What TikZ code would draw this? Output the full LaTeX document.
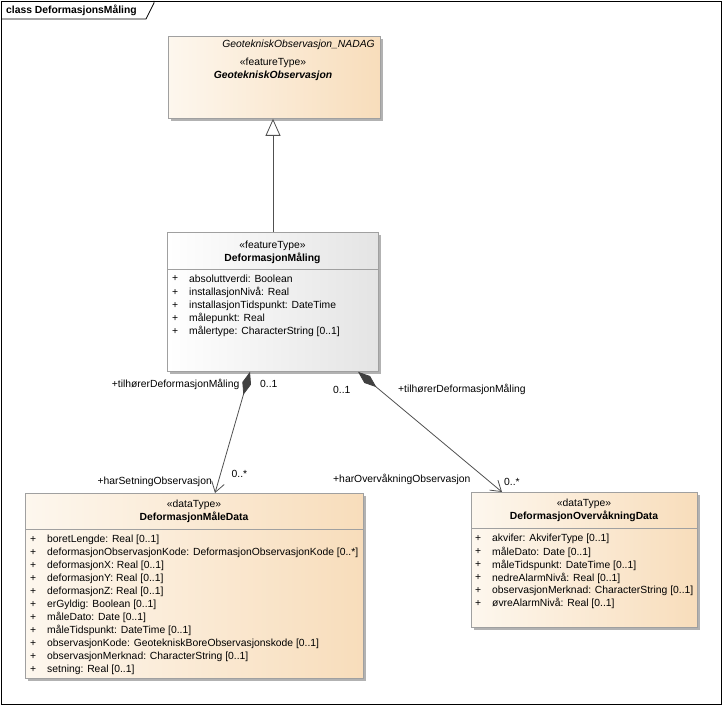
\documentclass[tikz,border=0pt]{standalone}
\usepackage{fontspec}
\setmainfont{Liberation Sans}
\usetikzlibrary{arrows.meta,shadows}
\definecolor{beigeL}{HTML}{FDF7EE}
\definecolor{beigeR}{HTML}{F8DDBB}
\definecolor{greyR}{HTML}{E4E4E4}
\definecolor{boxline}{HTML}{A0A0A0}
\definecolor{conline}{HTML}{505050}
\definecolor{diamondc}{HTML}{404040}
\tikzset{
  umlbox/.style={draw=boxline, line width=0.8pt, anchor=north west, inner sep=0pt,
    drop shadow={shadow xshift=3pt, shadow yshift=-3pt, fill=black!30, opacity=1}},
  beigebox/.style={umlbox, left color=beigeL, right color=beigeR},
  greybox/.style={umlbox, left color=white, right color=greyR},
  txt/.style={font=\fontsize{10.35}{12}\selectfont, inner sep=0pt, text=black},
  attr/.style={txt, anchor=west},
  bold/.style={txt, font=\fontsize{10.35}{12}\selectfont\bfseries},
  sep/.style={draw=boxline, line width=0.8pt},
  conn/.style={draw=conline, line width=0.8pt},
  comp/.style={conn, {Diamond[fill=diamondc, color=diamondc, length=24pt, width=9pt]}-{Straight Barb[length=10pt, width=13pt, line width=0.8pt]}},
}
\begin{document}
\begin{tikzpicture}[x=1pt,y=-1pt]
\useasboundingbox (0,0) rectangle (723,706);
% frame
\draw[line width=0.8pt] (1,1) rectangle (721.5,704.5);
\draw[line width=0.8pt] (1,19) -- (146,19) -- (154,3) -- (154,1);
\node[bold, anchor=west] (title) at (6,10) {class DeformasjonsMåling};

% GeotekniskObservasjon
\node[beigebox, minimum width=212, minimum height=82] (go) at (168,36) {};
\node[txt, anchor=east, font=\fontsize{10.35}{12}\selectfont\itshape] (gopkg) at (375,45) {GeotekniskObservasjon\_NADAG};
\node[txt] (gost) at (273,63) {«featureType»};
\node[bold, font=\fontsize{10.35}{12}\selectfont\bfseries\itshape] (goname) at (273,75.5) {GeotekniskObservasjon};

% DeformasjonMåling
\node[greybox, minimum width=211, minimum height=139] (dm) at (167,232) {};
\draw[sep] (167,269) -- (378,269);
\node[txt] (dmst) at (272.5,245.5) {«featureType»};
\node[bold] (dmname) at (272.5,258) {DeformasjonMåling};
\foreach \y/\t in {279/{absoluttverdi: Boolean},
                   292.5/{installasjonNivå: Real},
                   305.5/{installasjonTidspunkt: DateTime},
                   318.5/{målepunkt: Real},
                   331.5/{målertype: CharacterString [0..1]}} {
  \node[attr] at (172,\y) {+};
  \node[attr] at (189,\y) {\t};
}

% DeformasjonMåleData
\node[beigebox, minimum width=338, minimum height=185] (md) at (25,493) {};
\draw[sep] (25,529) -- (363,529);
\node[txt] (mdst) at (194,504.5) {«dataType»};
\node[bold] (mdname) at (194,517) {DeformasjonMåleData};
\foreach \y/\t in {540/{boretLengde: Real [0..1]},
                   553/{deformasjonObservasjonKode: DeformasjonObservasjonKode [0..*]},
                   566/{deformasjonX: Real [0..1]},
                   579/{deformasjonY: Real [0..1]},
                   592/{deformasjonZ: Real [0..1]},
                   604.5/{erGyldig: Boolean [0..1]},
                   617.5/{måleDato: Date [0..1]},
                   630.5/{måleTidspunkt: DateTime [0..1]},
                   643.5/{observasjonKode: GeotekniskBoreObservasjonskode [0..1]},
                   656.5/{observasjonMerknad: CharacterString [0..1]},
                   669.5/{setning: Real [0..1]}} {
  \node[attr] at (30,\y) {+};
  \node[attr] at (47,\y) {\t};
}

% DeformasjonOvervåkningData
\node[beigebox, minimum width=226, minimum height=135] (od) at (471,492) {};
\draw[sep] (471,528) -- (697,528);
\node[txt] (odst) at (584,504) {«dataType»};
\node[bold] (odname) at (584,516.5) {DeformasjonOvervåkningData};
\foreach \y/\t in {539/{akvifer: AkviferType [0..1]},
                   552/{måleDato: Date [0..1]},
                   565/{måleTidspunkt: DateTime [0..1]},
                   578/{nedreAlarmNivå: Real [0..1]},
                   591/{observasjonMerknad: CharacterString [0..1]},
                   603.5/{øvreAlarmNivå: Real [0..1]}} {
  \node[attr] at (475,\y) {+};
  \node[attr] at (492,\y) {\t};
}

% generalization
\draw[conn, -{Triangle[open, fill=white, length=17pt, width=15pt, line width=0.8pt]}]
  ([xshift=106pt]dm.north west) -- ([xshift=106pt]dm.north west |- go.south);

% compositions
\draw[comp] ([xshift=83pt]dm.south west) -- ([xshift=190pt]md.north west);
\draw[comp] ([xshift=191pt]dm.south west) -- ([xshift=31pt]od.north west);

% labels
\node[txt, anchor=east] (l1) at (239.5,384) {+tilhørerDeformasjonMåling};
\node[txt, anchor=west] (l2) at (260,384) {0..1};
\node[txt, anchor=east] (l3) at (212,482) {+harSetningObservasjon};
\node[txt, anchor=west] (l4) at (231.5,474) {0..*};
\node[txt, anchor=west] (r1) at (333,390) {0..1};
\node[txt, anchor=west] (r2) at (398,389) {+tilhørerDeformasjonMåling};
\node[txt, anchor=west] (r3) at (333,479.5) {+harOvervåkningObservasjon};
\node[txt, anchor=west] (r4) at (504,481.5) {0..*};
\end{tikzpicture}
\end{document}
